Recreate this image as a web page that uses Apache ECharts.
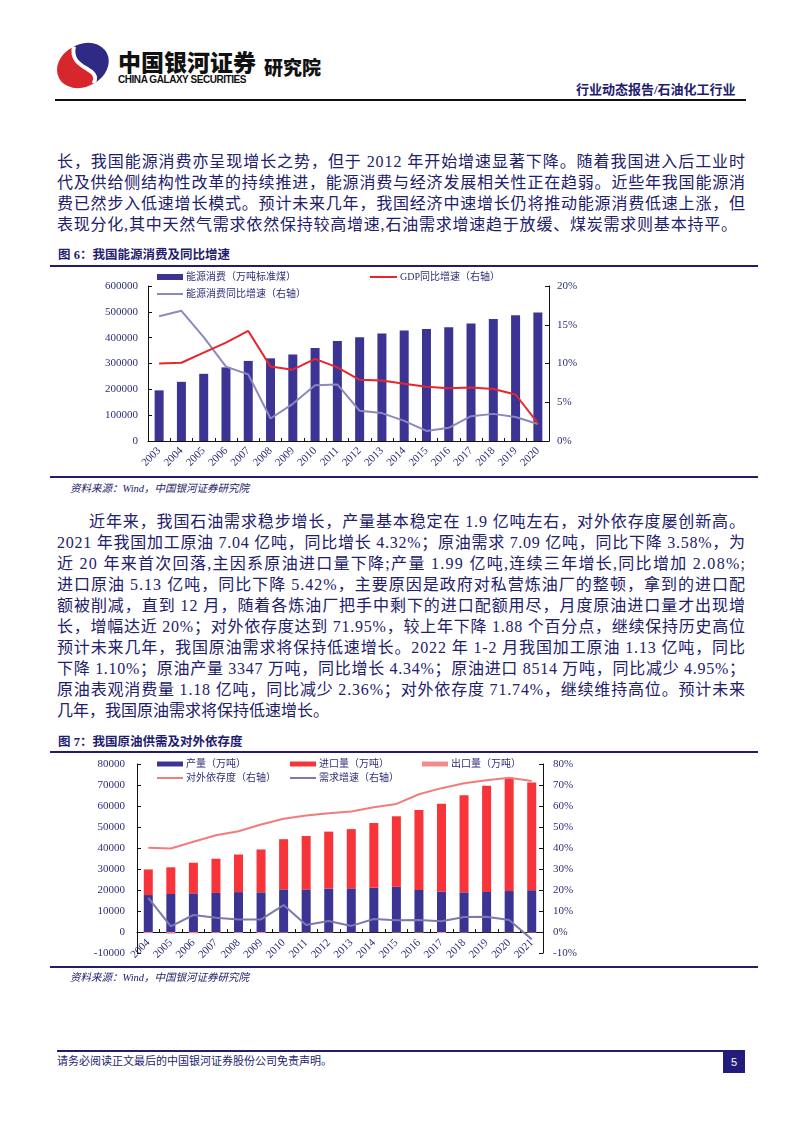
<!DOCTYPE html>
<html><head><meta charset="utf-8">
<script src="https://cdn.jsdelivr.net/npm/echarts@6/dist/echarts.min.js"></script>
<style>
html,body{margin:0;padding:0;background:#fff;}
body{width:802px;height:1133px;position:relative;overflow:hidden;font-family:"Liberation Serif","Noto Sans CJK SC",serif;color:#22206a;}
.a{position:absolute;white-space:nowrap;}
.ln{position:absolute;left:57px;height:21px;line-height:21px;font-size:16px;white-space:nowrap;}
.hr{position:absolute;}
.ttl{position:absolute;left:58px;font-size:12.5px;font-weight:bold;color:#231c6e;line-height:16px;font-family:"Liberation Serif","Noto Sans CJK SC",serif;}
.src{position:absolute;left:70px;font-size:10.5px;font-style:italic;color:#22206a;line-height:14px;}
</style></head>
<body>
<!-- header -->
<svg class="a" style="left:54px;top:42px" width="56" height="48" viewBox="0 0 56 48">
  <g transform="rotate(-28 28 24)">
    <ellipse cx="28" cy="24" rx="26" ry="21" fill="#d8262d"/>
    <path d="M30 3 A26 21 0 0 1 30 45 C46 34 14 22 30 3 Z" fill="#2f2a84"/>
    <path d="M30 3 C14 22 46 34 30 45" stroke="#fff" stroke-width="4" fill="none"/>
  </g>
</svg>
<div class="a" style="left:118px;top:47px;font-size:23px;font-weight:900;color:#111;font-family:'Noto Sans CJK SC';line-height:28px;letter-spacing:0px">中国银河证券</div>
<div class="a" style="left:118px;top:74px;font-size:10px;font-weight:bold;color:#111;font-family:'Liberation Sans';line-height:12px;letter-spacing:-0.45px">CHINA GALAXY SECURITIES</div>
<div class="a" style="left:264px;top:55px;font-size:19px;font-weight:900;color:#111;font-family:'Noto Sans CJK SC';line-height:24px">研究院</div>
<div class="a" style="left:576px;top:81px;font-size:13px;font-weight:bold;color:#231c6e;line-height:17px">行业动态报告/石油化工行业</div>
<div class="hr" style="left:55px;top:99px;width:691px;height:2px;background:#111"></div>

<!-- paragraph 1 -->
<div class="ln" style="top:151px" data-w="688">长，我国能源消费亦呈现增长之势，但于 2012 年开始增速显著下降。随着我国进入后工业时</div>
<div class="ln" style="top:172px" data-w="688">代及供给侧结构性改革的持续推进，能源消费与经济发展相关性正在趋弱。近些年我国能源消</div>
<div class="ln" style="top:193px" data-w="688">费已然步入低速增长模式。预计未来几年，我国经济中速增长仍将推动能源消费低速上涨，但</div>
<div class="ln" style="top:214px" data-w="680">表现分化,其中天然气需求依然保持较高增速,石油需求增速趋于放缓、煤炭需求则基本持平。</div>

<!-- figure 6 -->
<div class="ttl" style="top:247px">图 6：我国能源消费及同比增速</div>
<div class="hr" style="left:50px;top:265px;width:708px;height:2px;background:#231c6e"></div>
<div id="c6" class="a" style="left:0;top:268px;width:802px;height:208px"></div>
<div class="hr" style="left:50px;top:476px;width:708px;height:2px;background:#231c6e"></div>
<div class="src" style="top:482px">资料来源：Wind，中国银河证券研究院</div>

<!-- paragraph 2 -->
<div class="ln" style="top:511px;left:89px" data-w="656">近年来，我国石油需求稳步增长，产量基本稳定在 1.9 亿吨左右，对外依存度屡创新高。</div>
<div class="ln" style="top:532px" data-w="688">2021 年我国加工原油 7.04 亿吨，同比增长 4.32%；原油需求 7.09 亿吨，同比下降 3.58%，为</div>
<div class="ln" style="top:553px" data-w="688">近 20 年来首次回落,主因系原油进口量下降;产量 1.99 亿吨,连续三年增长,同比增加 2.08%;</div>
<div class="ln" style="top:574px" data-w="688">进口原油 5.13 亿吨，同比下降 5.42%，主要原因是政府对私营炼油厂的整顿，拿到的进口配</div>
<div class="ln" style="top:595px" data-w="688">额被削减，直到 12 月，随着各炼油厂把手中剩下的进口配额用尽，月度原油进口量才出现增</div>
<div class="ln" style="top:616px" data-w="688">长，增幅达近 20%；对外依存度达到 71.95%，较上年下降 1.88 个百分点，继续保持历史高位</div>
<div class="ln" style="top:637px" data-w="688">预计未来几年，我国原油需求将保持低速增长。2022 年 1-2 月我国加工原油 1.13 亿吨，同比</div>
<div class="ln" style="top:658px" data-w="688">下降 1.10%；原油产量 3347 万吨，同比增长 4.34%；原油进口 8514 万吨，同比减少 4.95%；</div>
<div class="ln" style="top:679px" data-w="688">原油表观消费量 1.18 亿吨，同比减少 2.36%；对外依存度 71.74%，继续维持高位。预计未来</div>
<div class="ln" style="top:700px">几年，我国原油需求将保持低速增长。</div>

<!-- figure 7 -->
<div class="ttl" style="top:734px">图 7：我国原油供需及对外依存度</div>
<div class="hr" style="left:50px;top:751px;width:708px;height:2px;background:#231c6e"></div>
<div id="c7" class="a" style="left:0;top:754px;width:802px;height:216px"></div>
<div class="hr" style="left:50px;top:966px;width:708px;height:2px;background:#231c6e"></div>
<div class="src" style="top:971px">资料来源：Wind，中国银河证券研究院</div>

<!-- footer -->
<div class="hr" style="left:57px;top:1050px;width:688px;height:1.5px;background:#231c6e"></div>
<div class="a" style="left:57px;top:1054px;font-size:11px;color:#231c6e;line-height:15px">请务必阅读正文最后的中国银河证券股份公司免责声明。</div>
<div class="a" style="left:723px;top:1051px;width:22px;height:22px;background:#231c7a;color:#fff;font-family:'Liberation Sans';font-size:11px;line-height:22px;text-align:center">5</div>

<script>
// ---------- Figure 6 data ----------
const years6 = ['2003','2004','2005','2006','2007','2008','2009','2010','2011','2012','2013','2014','2015','2016','2017','2018','2019','2020'];
const energyConsumption = [196000,229000,260000,285000,310000,320000,335000,360000,387000,402000,416000,428000,434000,440000,455000,472000,487000,497000];
const gdpGrowth = [10.0,10.1,11.4,12.7,14.2,9.6,9.2,10.6,9.5,7.9,7.8,7.4,7.0,6.8,6.9,6.7,6.0,2.3];
const energyGrowth = [16.1,16.8,13.4,9.6,8.6,2.9,4.8,7.2,7.3,3.9,3.6,2.6,1.3,1.7,3.2,3.5,3.1,2.2];
const leftTicks6 = {min:0,max:600000,interval:100000};
const rightTicks6 = {min:0,max:20,interval:5};

// ---------- Figure 7 data ----------
const years7 = ['2004','2005','2006','2007','2008','2009','2010','2011','2012','2013','2014','2015','2016','2017','2018','2019','2020','2021'];
const production = [17600,18100,18400,18600,19000,18900,20300,20300,20700,20800,21100,21500,20000,19200,18900,19100,19500,19900];
const imports = [12200,12700,14600,16300,17900,20400,23900,25400,27100,28200,30800,33600,38100,41900,46200,50600,53800,51300];
const exportsVol = [-550,-810,-630,-390,-420,-510,-300,-250,-240,-160,-60,-290,-290,-490,-260,-80,-160,-260];
const dependency = [40.1,39.8,43.0,46.1,48.0,51.2,53.9,55.5,56.6,57.4,59.4,61.0,65.6,68.5,70.8,72.3,73.5,71.9];
const demandGrowth = [16.3,2.7,8.1,6.8,5.9,6.0,12.8,3.3,5.2,2.9,6.2,5.6,5.7,5.1,7.1,7.3,5.7,-3.5];
const leftTicks7 = {min:-10000,max:80000,interval:10000};
const rightTicks7 = {min:-10,max:80,interval:10};

const NAVY = '#3b3493', LBL = '#2e2e78';
const FF = '"Liberation Serif","Noto Sans CJK SC",serif';
const axisLbl = {fontSize:11,color:LBL,fontFamily:FF};
const blackLine = {show:true,lineStyle:{color:'#111',width:1}};
function yAx(t, pos, margin, fmt){
  return {type:'value',position:pos,min:t.min,max:t.max,interval:t.interval,
    axisLine:blackLine,axisTick:{show:true,inside:true,length:4,lineStyle:{color:'#111'}},
    splitLine:{show:false},axisLabel:Object.assign({margin:margin,formatter:fmt},axisLbl)};
}
function xAx(data, margin){
  return {type:'category',data:data,boundaryGap:true,position:'bottom',
    axisLine:{show:true,onZero:true,lineStyle:{color:'#111',width:1}},
    axisTick:{show:true,inside:true,length:3,lineStyle:{color:'#111'}},
    axisLabel:Object.assign({rotate:45,interval:0,margin:margin},axisLbl)};
}
function leg(names, left, top, h, w){
  return {data:names.map(n=>({name:n,icon:'rect'})),left:left,top:top,padding:0,itemWidth:w||26,itemHeight:h,itemGap:10,
    selectedMode:false,textStyle:{fontSize:10,color:LBL,fontFamily:FF,lineHeight:12,padding:[0,0,0,-2]}};
}

const c6 = echarts.init(document.getElementById('c6'),null,{renderer:'canvas'});
c6.setOption({
  animation:false,
  grid:{left:148,top:18,width:401,height:155,containLabel:false,outerBoundsMode:'none'},
  legend:[
    leg(['能源消费（万吨标准煤）'],157,3,6),
    leg(['能源消费同比增速（右轴）'],157,20,2),
    leg(['GDP同比增速（右轴）'],370,3,2,27)
  ],
  xAxis:xAx(years6,8),
  yAxis:[yAx(leftTicks6,'left',10,v=>v), yAx(rightTicks6,'right',8,v=>v+'%')],
  series:[
    {name:'能源消费（万吨标准煤）',type:'bar',data:energyConsumption,barWidth:9,itemStyle:{color:NAVY}},
    {name:'能源消费同比增速（右轴）',type:'line',yAxisIndex:1,data:energyGrowth,symbol:'none',lineStyle:{color:'#8c88bd',width:2},itemStyle:{color:'#8c88bd'}},
    {name:'GDP同比增速（右轴）',type:'line',yAxisIndex:1,data:gdpGrowth,symbol:'none',lineStyle:{color:'#e8252b',width:2},itemStyle:{color:'#e8252b'}}
  ]
});

// figure 7: axis line + ticks on zero (no labels), labels on a second bottom axis lifted to the zero line
const x7line = xAx(years7,9); x7line.axisLabel.show = false;
const x7lbl = xAx(years7,-12); x7lbl.axisLine = {show:false,onZero:false}; x7lbl.axisTick = {show:false};
const c7 = echarts.init(document.getElementById('c7'),null,{renderer:'canvas'});
c7.setOption({
  animation:false,
  grid:{left:137,top:10,width:406,height:189,containLabel:false,outerBoundsMode:'none'},
  legend:[
    leg(['产量（万吨）'],157,4,5),
    leg(['进口量（万吨）'],290,4,5),
    leg(['出口量（万吨）'],422,4,5),
    leg(['对外依存度（右轴）'],157,18,2),
    leg(['需求增速（右轴）'],290,18,2)
  ],
  xAxis:[x7line, x7lbl],
  yAxis:[yAx(leftTicks7,'left',12,v=>v), yAx(rightTicks7,'right',10,v=>v+'%')],
  series:[
    {name:'产量（万吨）',type:'bar',stack:'s',data:production,barWidth:9,itemStyle:{color:NAVY}},
    {name:'进口量（万吨）',type:'bar',stack:'s',data:imports,barWidth:9,itemStyle:{color:'#f7343a'}},
    {name:'出口量（万吨）',type:'bar',stack:'s',data:exportsVol,barWidth:9,itemStyle:{color:'#f28b8b'}},
    {name:'对外依存度（右轴）',type:'line',yAxisIndex:1,data:dependency,symbol:'none',lineStyle:{color:'#f27c7c',width:2},itemStyle:{color:'#f27c7c'}},
    {name:'需求增速（右轴）',type:'line',yAxisIndex:1,data:demandGrowth,symbol:'none',lineStyle:{color:'#7c78b4',width:2},itemStyle:{color:'#7c78b4'}}
  ]
});

// justify body lines
function justify(){
  document.querySelectorAll('.ln').forEach(el=>{
    if(!el.firstElementChild){const s=document.createElement('span');s.textContent=el.textContent;el.textContent='';el.appendChild(s);}
    const t=parseFloat(el.dataset.w||0); if(!t) return;
    const s=el.firstElementChild; el.style.letterSpacing='0px';
    const w=s.getBoundingClientRect().width; const n=[...s.textContent].length;
    el.style.letterSpacing=((t-w)/(n-1))+'px';
  });
}
justify();
if(document.fonts&&document.fonts.ready){document.fonts.ready.then(justify);}
</script>
</body></html>
